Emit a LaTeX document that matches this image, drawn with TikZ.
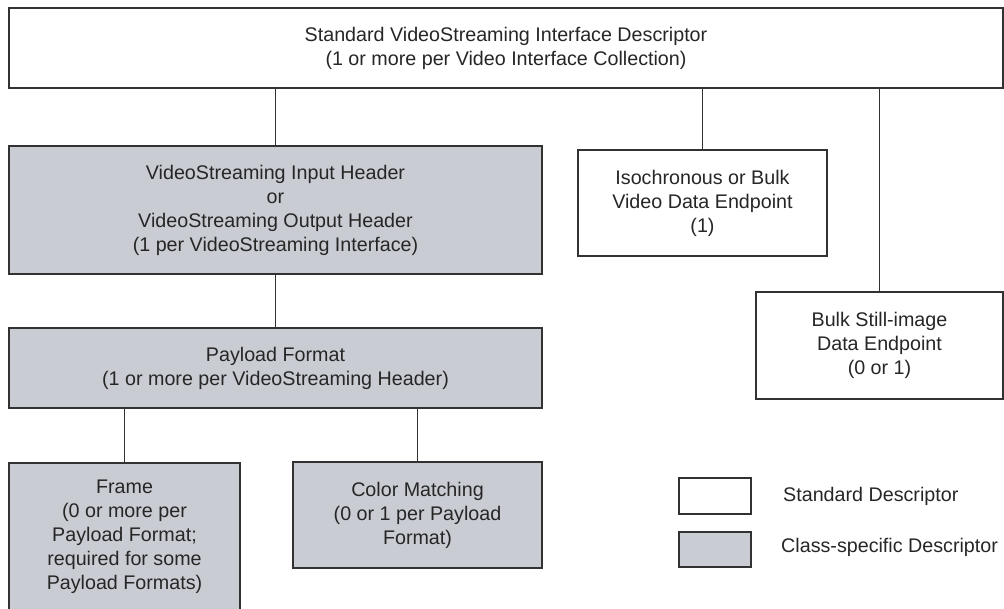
\documentclass[tikz,border=0pt]{standalone}
\usepackage{fontspec}
\setmainfont{Liberation Sans}
\definecolor{csgray}{RGB}{201,204,211}
\definecolor{lin}{RGB}{50,50,50}
\begin{document}
\begin{tikzpicture}[x=1pt,y=-1pt,
  box/.style={draw=lin,line width=1.2pt,fill=white,align=center,inner sep=0pt,
    font=\fontsize{19.7}{24}\selectfont,text=black!85},
  cbox/.style={box,fill=csgray},
  legtxt/.style={anchor=west,font=\fontsize{19.7}{24}\selectfont,text=black!85,inner sep=0pt},
  conn/.style={draw=lin,line width=1.2pt}]
\useasboundingbox (0,0) rectangle (1004,609);
\clip (0,0) rectangle (1004,609);
\node[box,minimum width=994,minimum height=80] (top) at (506,48)
  {Standard VideoStreaming Interface Descriptor\\(1 or more per Video Interface Collection)};
\node[cbox,minimum width=533,minimum height=128] (input) at (275.5,210)
  {VideoStreaming Input Header\\or\\VideoStreaming Output Header\\(1 per VideoStreaming Interface)};
\node[box,minimum width=249,minimum height=106] (iso) at (702.5,203)
  {Isochronous or Bulk\\Video Data Endpoint\\(1)};
\node[box,minimum width=247,minimum height=107] (bulk) at (879.5,345.5)
  {Bulk Still-image\\Data Endpoint\\(0 or 1)};
\node[cbox,minimum width=533,minimum height=80] (payload) at (275.5,368)
  {Payload Format\\(1 or more per VideoStreaming Header)};
\node[cbox,minimum width=231,minimum height=148] (frame) at (124.5,537)
  {Frame\\(0 or more per\\Payload Format;\\required for some\\Payload Formats)};
\node[cbox,minimum width=249,minimum height=106] (color) at (417.5,515)
  {Color Matching\\(0 or 1 per Payload\\Format)};
\node[box,minimum width=72,minimum height=36] (legstd) at (715,496) {};
\node[cbox,minimum width=72,minimum height=35] (legcs) at (715,549.5) {};
\node[legtxt] (legstdtxt) at (783,496) {Standard Descriptor};
\node[legtxt] (legcstxt) at (781,547) {Class-specific Descriptor};
\draw[conn] (top.south -| input.north) -- (input.north);
\draw[conn] (top.south -| iso.north) -- (iso.north);
\draw[conn] (top.south -| bulk.north) -- (bulk.north);
\draw[conn] (input.south) -- (payload.north);
\draw[conn] (payload.south -| frame.north) -- (frame.north);
\draw[conn] (payload.south -| color.north) -- (color.north);
\end{tikzpicture}
\end{document}
